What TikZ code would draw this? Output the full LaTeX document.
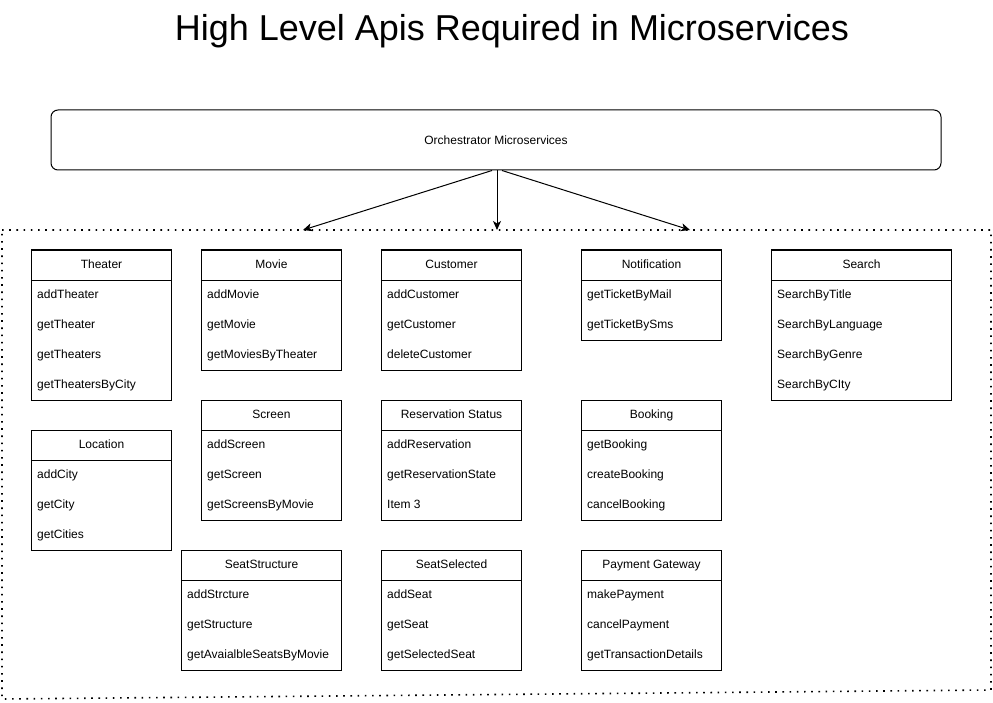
\documentclass[tikz,border=0pt]{standalone}
\usepackage{fontspec}
\setmainfont{Liberation Sans}
\usetikzlibrary{arrows.meta}
\tikzset{
  hdr/.style={draw, line width=1pt, minimum height=30pt, inner sep=0pt, text height=9pt, text depth=2.5pt, anchor=north west, font=\fontsize{12}{14}\selectfont},
  itm/.style={inner sep=4pt, text height=9pt, text depth=2.5pt, anchor=west, font=\fontsize{12}{14}\selectfont},
  frame/.style={draw, line width=1pt},
  group/.style={line width=1.6pt, dash pattern=on 1.6pt off 5.6pt},
  conn/.style={line width=1pt, -{Stealth[length=9pt, width=8pt, inset=2.5pt]}},
}
\newcommand{\ApiBox}[7]{% name, x, y, width, title, count, items
  \node[hdr, minimum width=#4pt] (#1) at (#2,#3) {#5};
  \foreach \itmtext [count=\i] in {#7} {
    \node[itm] (#1-\i) at ({#2+2}, {#3+15+30*\i}) {\itmtext};
  }
  \draw[frame] (#2,#3) rectangle ({#2+#4}, {#3+30+30*#6});
}
\begin{document}
\begin{tikzpicture}[x=1pt, y=-1pt]
\useasboundingbox (0,0) rectangle (993,703);

\node[font=\fontsize{36}{40}\selectfont, inner sep=0pt] (title) at (512,31) {High Level Apis Required in Microservices};

\node[draw, line width=1pt, rounded corners=7pt, minimum width=890pt, minimum height=60pt, inner sep=0pt,
      font=\fontsize{12}{14}\selectfont] (orch) at (496,140) {Orchestrator Microservices};

\draw[group] (2,230) -- (991,230) -- (991,690) -- (2,699) -- cycle;

\coordinate (tl) at (303,230);
\coordinate (tm) at (497,230);
\coordinate (tr) at (690,230);
\draw[conn] ([xshift=-4pt]orch.south) -- (tl);
\draw[conn] ([xshift=1pt]orch.south) -- (tm);
\draw[conn] ([xshift=6pt]orch.south) -- (tr);

\ApiBox{theater}{31}{250}{140}{Theater}{4}{addTheater,getTheater,getTheaters,getTheatersByCity}
\ApiBox{location}{31}{430}{140}{Location}{3}{addCity,getCity,getCities}
\ApiBox{movie}{201}{250}{140}{Movie}{3}{addMovie,getMovie,getMoviesByTheater}
\ApiBox{screen}{201}{400}{140}{Screen}{3}{addScreen,getScreen,getScreensByMovie}
\ApiBox{seatstructure}{181}{550}{160}{SeatStructure}{3}{addStrcture,getStructure,getAvaialbleSeatsByMovie}
\ApiBox{customer}{381}{250}{140}{Customer}{3}{addCustomer,getCustomer,deleteCustomer}
\ApiBox{reservation}{381}{400}{140}{Reservation Status}{3}{addReservation,getReservationState,Item 3}
\ApiBox{seatselected}{381}{550}{140}{SeatSelected}{3}{addSeat,getSeat,getSelectedSeat}
\ApiBox{notification}{581}{250}{140}{Notification}{2}{getTicketByMail,getTicketBySms}
\ApiBox{booking}{581}{400}{140}{Booking}{3}{getBooking,createBooking,cancelBooking}
\ApiBox{payment}{581}{550}{140}{Payment Gateway}{3}{makePayment,cancelPayment,getTransactionDetails}
\ApiBox{search}{771}{250}{180}{Search}{4}{SearchByTitle,SearchByLanguage,SearchByGenre,SearchByCIty}
\end{tikzpicture}
\end{document}
